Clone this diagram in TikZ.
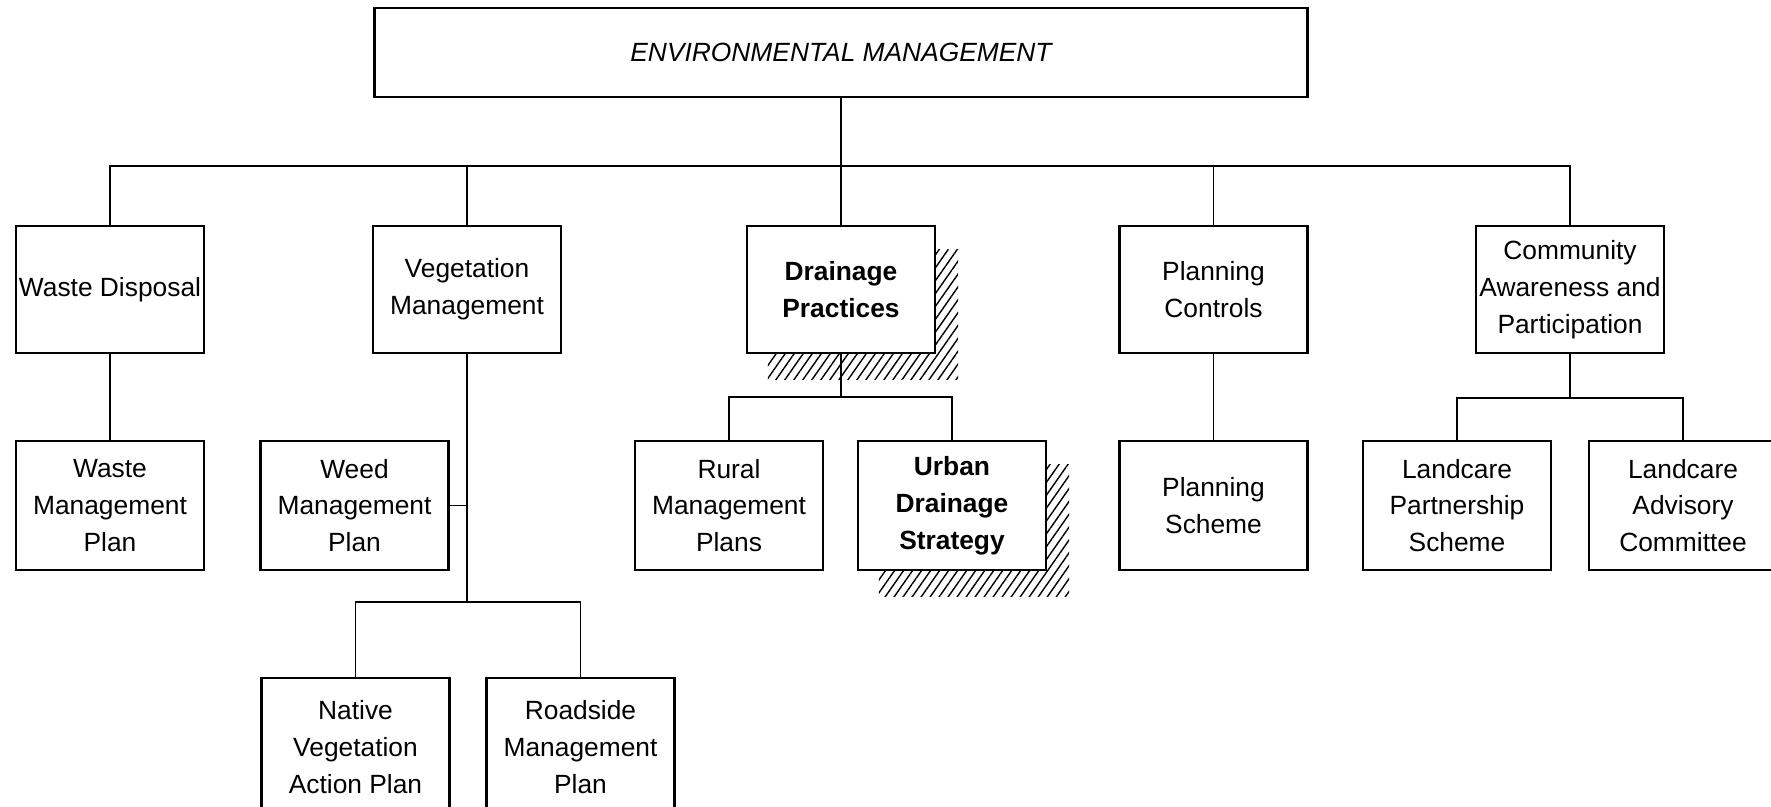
\documentclass[tikz,border=0pt]{standalone}
\usepackage{fontspec}
\setmainfont{Liberation Sans}
\usetikzlibrary{positioning, patterns.meta, backgrounds}
\tikzset{box/.style={draw,line width=1.4pt,fill=white,minimum width=3.76cm,
        align=center,inner sep=1pt,font=\fontsize{15}{21}\selectfont},
    main box/.style={box,minimum width=18.66cm,minimum height=1.78cm,
        font=\fontsize{15}{21}\selectfont\itshape},
    head/.style={box,minimum height=2.54cm},
    item/.style={box,minimum height=2.58cm},
    key/.style={font=\fontsize{15}{21}\selectfont\bfseries},
    link/.style={draw,line width=0.8pt},
    hatch/.style={pattern={Lines[angle=55,distance=4.2pt,line width=0.8pt]}}}

\begin{document}
\begin{tikzpicture}[x=0.02cm,y=-0.02cm]
    \useasboundingbox (0,0) rectangle (1771,806);
    \clip (0,0) rectangle (1771,806);

    % Top of the tree
    \node[main box] (env) at (841,52.5) {ENVIRONMENTAL MANAGEMENT};

    % First level
    \node[head] (waste) at (110,289.5)   {Waste Disposal};
    \node[head] (veg)   at (467,289.5)   {Vegetation\\Management};
    \node[head,key] (drain) at (841,289.5) {Drainage\\Practices};
    \node[head] (plan)  at (1213.5,289.5) {Planning\\Controls};
    \node[head] (comm)  at (1570,289.5)  {Community\\Awareness and\\Participation};

    % Second level
    \node[item] (wplan)  at (110,505.5)    {Waste\\Management\\Plan};
    \node[item] (weed)   at (354.5,505.5)  {Weed\\Management\\Plan};
    \node[item] (rural)  at (729,505.5)    {Rural\\Management\\Plans};
    \node[item,key] (urban) at (952,505.5) {Urban\\Drainage\\Strategy};
    \node[item] (scheme) at (1213.5,505.5) {Planning\\Scheme};
    \node[item] (lpart)  at (1457,505.5)   {Landcare\\Partnership\\Scheme};
    \node[item] (ladv)   at (1683,505.5)   {Landcare\\Advisory\\Committee};

    % Third level (vegetation branch), running off the bottom edge
    \node[item,minimum height=2.76cm] (native) at (355.5,747) {Native\\Vegetation\\Action Plan};
    \node[item,minimum height=2.76cm] (road)   at (580.5,747) {Roadside\\Management\\Plan};

    % Hatched shadows behind the drainage boxes
    \begin{scope}[on background layer]
        \foreach \n in {drain,urban}
            \fill[hatch] ([shift={(22,25)}]\n.south west) rectangle ([shift={(22,25)}]\n.north east);
    \end{scope}

    % Bus lines
    \coordinate (bus)  at (841,166);
    \coordinate (dbus) at (841,397);
    \coordinate (cbus) at (1570,398);
    \coordinate (vbus) at (467,602);

    \draw[link] (env.south) -- (bus);
    \draw[link] (waste.north) |- (bus) -| (comm.north);
    \foreach \n in {veg,drain,plan}
        \draw[link] (\n.north) -- (\n.north |- bus);

    \draw[link] (waste.south) -- (wplan.north);
    \draw[link] (plan.south) -- (scheme.north);

    \draw[link] (drain.south) -- (dbus);
    \draw[link] (rural.north) |- (dbus) -| (urban.north);

    \draw[link] (comm.south) -- (cbus);
    \draw[link] (lpart.north) |- (cbus) -| (ladv.north);

    \draw[link] (veg.south) -- (vbus);
    \draw[link] (weed.east) -- (weed.east -| veg.south);
    \draw[link] (native.north) |- (vbus) -| (road.north);
\end{tikzpicture}
\end{document}
